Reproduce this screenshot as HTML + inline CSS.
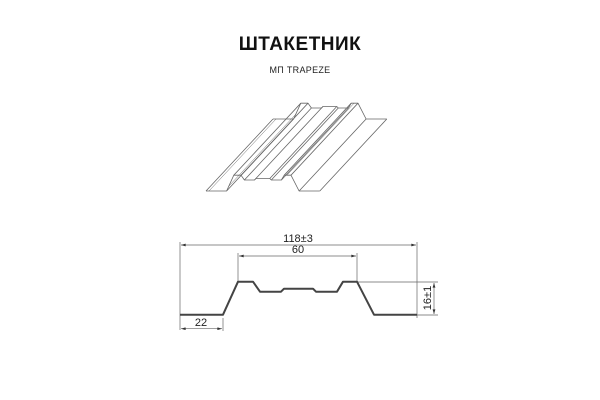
<!DOCTYPE html>
<html><head><meta charset="utf-8"><style>
html,body{margin:0;padding:0;background:#fff;}
svg{display:block;}
</style></head><body>
<svg width="600" height="400" viewBox="0 0 600 400" xmlns="http://www.w3.org/2000/svg">
<defs>
<marker id="a" viewBox="0 0 10 6" refX="10" refY="3" markerWidth="7" markerHeight="4" orient="auto-start-reverse"><path d="M0,0 L10,3 L0,6 z" fill="#333"/></marker>
</defs>
<text x="300" y="50" text-anchor="middle" font-family="Liberation Sans, DejaVu Sans, sans-serif" font-weight="bold" font-size="19" fill="#111" letter-spacing="0.5">ШТАКЕТНИК</text>
<text x="300" y="73" text-anchor="middle" font-family="Liberation Sans, DejaVu Sans, sans-serif" font-size="9" fill="#222" letter-spacing="0.3">МП TRAPEZE</text>

<g fill="none" stroke="#666" stroke-width="0.8" stroke-linejoin="round">
<polyline points="206,191 226.6,191 233.8,175.2 241,175.2 244.4,180 254.5,180 255.9,178.5 269.8,178.5 271.3,180 281.4,180 284.2,175.2 291,175.2 299.1,191 319.8,191"/>
<polyline points="273,119 293.6,119 300.8,103.2 308,103.2 311.4,108 321.5,108 322.9,106.5 336.8,106.5 338.3,108 348.4,108 351.2,103.2 358,103.2 366.1,119 386.8,119"/>
<path d="M206,191L273,119 M226.6,191L293.6,119 M233.8,175.2L300.8,103.2 M241,175.2L308,103.2 M244.4,180L311.4,108 M254.5,180L321.5,108 M255.9,178.5L322.9,106.5 M269.8,178.5L336.8,106.5 M271.3,180L338.3,108 M281.4,180L348.4,108 M284.2,175.2L351.2,103.2 M291,175.2L358,103.2 M299.1,191L366.1,119 M319.8,191L386.8,119"/>
<path d="M209,191L276,119 M229,186L296,114 M287,175.2L354,103.2" stroke-width="0.5"/>
</g>

<g stroke="#666" stroke-width="0.7" fill="none">
<path d="M180,242V330 M417,242V318 M238,253V281 M357,253V281 M223,318V331 M357,282H438 M417,315H438"/>
<line x1="181" y1="245" x2="416" y2="245" marker-start="url(#a)" marker-end="url(#a)"/>
<line x1="239" y1="256" x2="356" y2="256" marker-start="url(#a)" marker-end="url(#a)"/>
<line x1="181" y1="328.7" x2="222" y2="328.7" marker-start="url(#a)" marker-end="url(#a)"/>
<line x1="434" y1="283" x2="434" y2="314" marker-start="url(#a)" marker-end="url(#a)"/>
</g>

<polyline fill="none" stroke="#444" stroke-width="2" stroke-linejoin="round" points="180,314.7 223,314.7 238,281.7 253,281.7 260,291.7 281,291.7 284,288.7 313,288.7 316,291.7 337,291.7 343,281.7 357,281.7 374,314.7 417,314.7"/>

<g font-family="Liberation Sans, DejaVu Sans, sans-serif" font-size="11" fill="#222" text-anchor="middle">
<text x="298" y="242">118±3</text>
<text x="298" y="253">60</text>
<text x="201" y="326">22</text>
<text transform="translate(431,298) rotate(-90)" y="0">16±1</text>
</g>
</svg>
</body></html>
